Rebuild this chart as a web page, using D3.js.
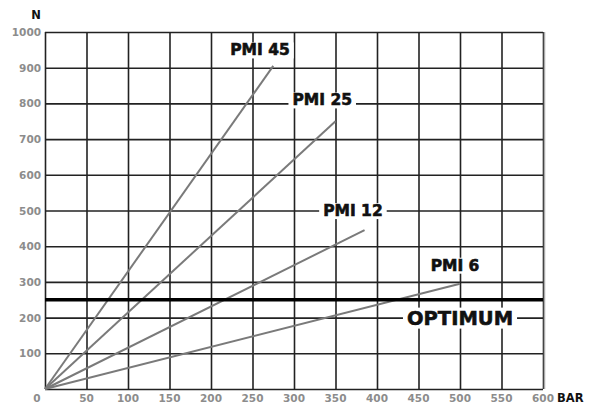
<!DOCTYPE html>
<html>
<head>
<meta charset="utf-8">
<script src="https://cdn.jsdelivr.net/npm/d3@7"></script>
<style>
  body { margin: 0; background: #fff; }
  svg { display: block; }
</style>
</head>
<body>
<div class="viz"></div>
<script>
// chart values
const xTickValues = [0, 50, 100, 150, 200, 250, 300, 350, 400, 450, 500, 550, 600]
const yTickValues = [0, 100, 200, 300, 400, 500, 600, 700, 800, 900, 1000]
const seriesNames = ['PMI 45', 'PMI 25', 'PMI 12', 'PMI 6']
const seriesEndBar = [275, 350, 385, 500]
const seriesEndN = [905, 750, 445, 295]
const optimumN = 250
const optimumLabel = 'OPTIMUM'

const width = 589
const height = 405
const margin = { top: 32, right: 46, bottom: 16, left: 45 }

const svg = d3.select('.viz')
  .append('svg')
  .attr('width', width)
  .attr('height', height)

const x = d3.scaleLinear().domain([0, 600]).range([margin.left, width - margin.right])
const y = d3.scaleLinear().domain([0, 1000]).range([height - margin.bottom, margin.top])

const font = '"DejaVu Sans", sans-serif'

// grid via axes
const gx = svg.append('g')
  .attr('transform', `translate(0, ${y(0)})`)
  .call(d3.axisBottom(x).tickValues(xTickValues).tickSize(-(y(0) - y(1000))).tickFormat(''))
const gy = svg.append('g')
  .attr('transform', `translate(${x(0)}, 0)`)
  .call(d3.axisLeft(y).tickValues(yTickValues).tickSize(-(x(600) - x(0))).tickFormat(''))

gx.select('.domain').remove()
gy.select('.domain').remove()
svg.selectAll('.tick line')
  .attr('stroke', '#222')
  .attr('stroke-width', 1.6)

// right edge shadow
svg.append('line')
  .attr('x1', x(600) + 1.5).attr('x2', x(600) + 1.5)
  .attr('y1', y(1000)).attr('y2', y(0))
  .attr('stroke', '#aaa').attr('stroke-width', 1.5)

// tick labels
svg.append('g').selectAll('text')
  .data(xTickValues)
  .enter()
  .append('text')
  .attr('x', d => d === 0 ? x(d) - 8 : x(d))
  .attr('y', y(0) + 13)
  .attr('text-anchor', 'middle')
  .attr('font-family', font)
  .attr('font-weight', 'bold')
  .attr('font-size', 10.5)
  .attr('fill', '#8c8c8c')
  .text(d => d)

svg.append('g').selectAll('text')
  .data(yTickValues.filter(d => d > 0))
  .enter()
  .append('text')
  .attr('x', x(0) - 4)
  .attr('y', d => y(d) + 4)
  .attr('text-anchor', 'end')
  .attr('font-family', font)
  .attr('font-weight', 'bold')
  .attr('font-size', 10.5)
  .attr('fill', '#8c8c8c')
  .text(d => d)

// axis titles
svg.append('text')
  .attr('x', 36).attr('y', 19)
  .attr('text-anchor', 'middle')
  .attr('font-family', font).attr('font-weight', 'bold').attr('font-size', 11.5)
  .attr('fill', '#111')
  .text('N')

svg.append('text')
  .attr('x', x(600) + 14).attr('y', y(0) + 13)
  .attr('font-family', font).attr('font-weight', 'bold').attr('font-size', 11.5)
  .attr('fill', '#111')
  .text('BAR')

// series lines
const seriesData = seriesNames.map((name, i) => ({ name, bar: seriesEndBar[i], n: seriesEndN[i] }))

svg.append('g').selectAll('line')
  .data(seriesData)
  .enter()
  .append('line')
  .attr('x1', x(0)).attr('y1', y(0))
  .attr('x2', d => x(d.bar)).attr('y2', d => y(d.n))
  .attr('stroke', '#7a7a7a')
  .attr('stroke-width', 2)

// optimum line
svg.append('line')
  .attr('x1', x(0)).attr('x2', x(600))
  .attr('y1', y(optimumN)).attr('y2', y(optimumN))
  .attr('stroke', '#000')
  .attr('stroke-width', 3.5)

// labels (centre positions in data units)
const labelAt = [[259, 950], [334, 810], [371, 500], [494, 347]]
const labels = seriesNames.map((t, i) => ({ t, bx: labelAt[i][0], ny: labelAt[i][1], size: 15.5 }))
labels.push({ t: optimumLabel, bx: 500, ny: 200, size: 19.5 })

const lab = svg.append('g').selectAll('g')
  .data(labels)
  .enter()
  .append('g')
  .attr('transform', d => `translate(${x(d.bx)}, ${y(d.ny)})`)

lab.append('text')
  .attr('text-anchor', 'middle')
  .attr('dy', '0.36em')
  .attr('font-family', font)
  .attr('font-weight', 'bold')
  .attr('font-size', d => d.size)
  .attr('fill', '#111')
  .attr('stroke', '#111')
  .attr('stroke-width', 0.6)
  .text(d => d.t)

lab.each(function () {
  const g = d3.select(this)
  const bb = g.select('text').node().getBBox()
  g.insert('rect', 'text')
    .attr('x', bb.x - 4).attr('y', bb.y + 1)
    .attr('width', bb.width + 8).attr('height', bb.height - 2)
    .attr('fill', '#fff')
})
</script>
</body>
</html>
